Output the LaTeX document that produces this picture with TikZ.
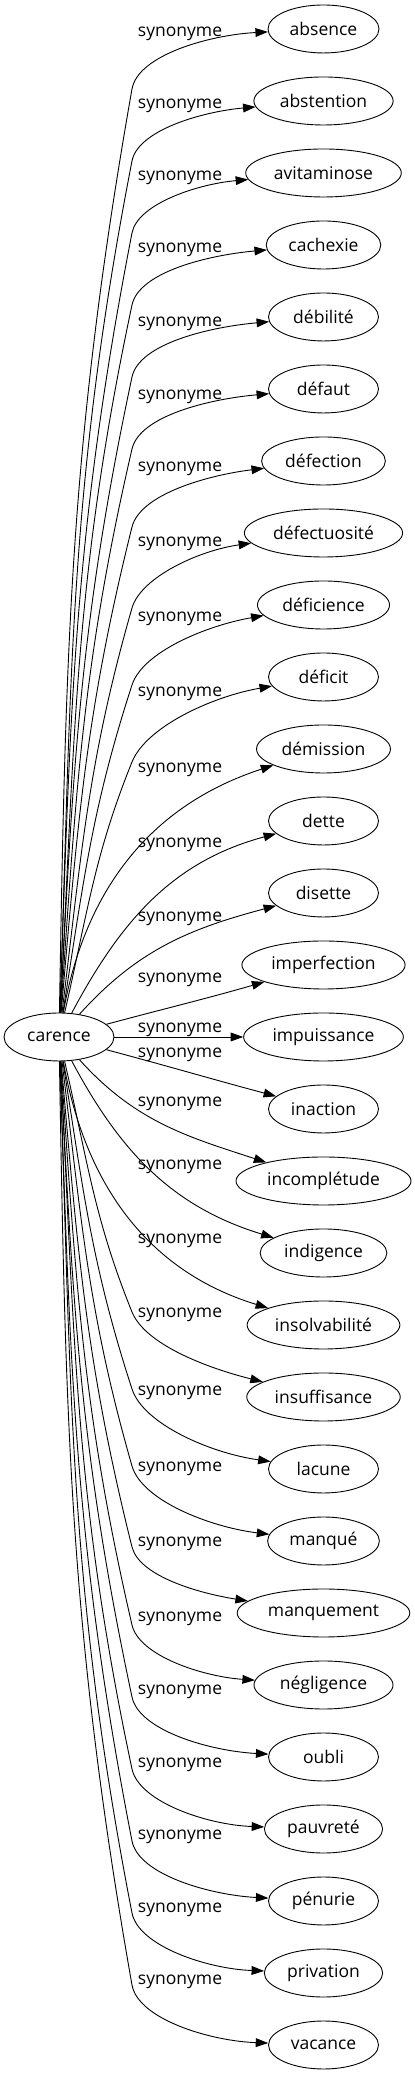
\documentclass[tikz,border=0pt]{standalone}
\usepackage{fontspec}
\setmainfont{Open Sans}
\usetikzlibrary{shapes.geometric, arrows.meta}
\tikzstyle{word} = [ellipse, draw=black, line width=0.9pt, minimum width=110pt, minimum height=48pt, inner xsep=5.5pt, inner ysep=2pt, font=\fontsize{17.5pt}{21pt}\selectfont]
\tikzstyle{syn} = [inner sep=0pt, font=\fontsize{17.5pt}{21pt}\selectfont]
\tikzstyle{arrow} = [line width=0.9pt, -{Triangle[length=12.5pt, width=8.75pt]}]
\begin{document}
\begin{tikzpicture}[node distance=72pt, x=1pt, y=1pt]
\useasboundingbox (0,0) rectangle (415,2075);
\node (absence) [word] at (323.5,2046) {absence};
\node (abstention) [word, below of = absence] {abstention};
\node (avitaminose) [word, below of = abstention] {avitaminose};
\node (cachexie) [word, below of = avitaminose] {cachexie};
\node (debilite) [word, below of = cachexie] {débilité};
\node (defaut) [word, below of = debilite] {défaut};
\node (defection) [word, below of = defaut] {défection};
\node (defectuosite) [word, below of = defection] {défectuosité};
\node (deficience) [word, below of = defectuosite] {déficience};
\node (deficit) [word, below of = deficience] {déficit};
\node (demission) [word, below of = deficit] {démission};
\node (dette) [word, below of = demission] {dette};
\node (disette) [word, below of = dette] {disette};
\node (imperfection) [word, below of = disette] {imperfection};
\node (impuissance) [word, below of = imperfection] {impuissance};
\node (inaction) [word, below of = impuissance] {inaction};
\node (incompletude) [word, below of = inaction] {incomplétude};
\node (indigence) [word, below of = incompletude] {indigence};
\node (insolvabilite) [word, below of = indigence] {insolvabilité};
\node (insuffisance) [word, below of = insolvabilite] {insuffisance};
\node (lacune) [word, below of = insuffisance] {lacune};
\node (manque) [word, below of = lacune] {manqué};
\node (manquement) [word, below of = manque] {manquement};
\node (negligence) [word, below of = manquement] {négligence};
\node (oubli) [word, below of = negligence] {oubli};
\node (pauvrete) [word, below of = oubli] {pauvreté};
\node (penurie) [word, below of = pauvrete] {pénurie};
\node (privation) [word, below of = penurie] {privation};
\node (vacance) [word, below of = privation] {vacance};
\node (carence) [word, left of = impuissance, xshift = -192.5pt] {carence};
\draw [arrow] (carence) to[out=89, in=260] (132,1986) to[out=80, in=183, out looseness=0.6] (absence) node[syn] at (180,2041) {synonyme};
\draw [arrow] (carence) to[out=88, in=259] (132,1914) to[out=79, in=185, out looseness=0.6] (abstention) node[syn] at (180,1969) {synonyme};
\draw [arrow] (carence) to[out=88, in=259] (132,1842) to[out=79, in=185, out looseness=0.6] (avitaminose) node[syn] at (180,1897) {synonyme};
\draw [arrow] (carence) to[out=87, in=258] (132,1770) to[out=78, in=185, out looseness=0.6] (cachexie) node[syn] at (180,1825) {synonyme};
\draw [arrow] (carence) to[out=87, in=258] (132,1698) to[out=78, in=185, out looseness=0.6] (debilite) node[syn] at (180,1751) {synonyme};
\draw [arrow] (carence) to[out=86, in=257] (132,1626) to[out=77, in=185, out looseness=0.6] (defaut) node[syn] at (180,1678) {synonyme};
\draw [arrow] (carence) to[out=85, in=256] (132,1548) to[out=76, in=187, out looseness=0.6] (defection) node[syn] at (180,1606) {synonyme};
\draw [arrow] (carence) to[out=83, in=254] (132,1467) to[out=74, in=188, out looseness=0.6] (defectuosite) node[syn] at (180,1531) {synonyme};
\draw [arrow] (carence) to[out=81, in=252] (132,1390) to[out=72, in=190, out looseness=0.6] (deficience) node[syn] at (180,1456) {synonyme};
\draw [arrow] (carence) to[out=77, in=248] (132,1313) to[out=68, in=190, out looseness=0.6] (deficit) node[syn] at (180,1381) {synonyme};
\draw [arrow] (carence) to[out=80, in=198] (demission) node[syn] at (180,1305) {synonyme};
\draw [arrow] (carence) to[out=62, in=195] (dette) node[syn] at (180,1230) {synonyme};
\draw [arrow] (carence) to[out=48, in=195] (disette) node[syn] at (180,1156) {synonyme};
\draw [arrow] (carence) to[out=15, in=196] (imperfection) node[syn] at (180,1095) {synonyme};
\draw [arrow] (carence) -- (impuissance) node[syn] at (180,1045) {synonyme};
\draw [arrow] (carence) to[out=-15, in=165] (inaction) node[syn] at (180,1020) {synonyme};
\draw [arrow] (carence) to[out=-48, in=162] (incompletude) node[syn] at (180,971) {synonyme};
\draw [arrow] (carence) to[out=-62, in=163] (indigence) node[syn] at (180,908) {synonyme};
\draw [arrow] (carence) to[out=-80, in=163] (insolvabilite) node[syn] at (180,834) {synonyme};
\draw [arrow] (carence) to[out=-77, in=112] (132,763) to[out=-68, in=166, out looseness=0.6] (insuffisance) node[syn] at (180,760) {synonyme};
\draw [arrow] (carence) to[out=-81, in=108] (132,686) to[out=-72, in=172, out looseness=0.6] (lacune) node[syn] at (180,682) {synonyme};
\draw [arrow] (carence) to[out=-83, in=106] (132,609) to[out=-74, in=173, out looseness=0.6] (manque) node[syn] at (180,606) {synonyme};
\draw [arrow] (carence) to[out=-85, in=104] (132,528) to[out=-76, in=171, out looseness=0.6] (manquement) node[syn] at (180,531) {synonyme};
\draw [arrow] (carence) to[out=-86, in=103] (132,450) to[out=-77, in=176, out looseness=0.6] (negligence) node[syn] at (180,456) {synonyme};
\draw [arrow] (carence) to[out=-87, in=102] (132,378) to[out=-78, in=177, out looseness=0.6] (oubli) node[syn] at (180,383) {synonyme};
\draw [arrow] (carence) to[out=-87, in=102] (132,306) to[out=-78, in=178, out looseness=0.6] (pauvrete) node[syn] at (180,310) {synonyme};
\draw [arrow] (carence) to[out=-88, in=101] (132,234) to[out=-79, in=177, out looseness=0.6] (penurie) node[syn] at (180,238) {synonyme};
\draw [arrow] (carence) to[out=-88, in=101] (132,162) to[out=-79, in=178, out looseness=0.6] (privation) node[syn] at (180,165) {synonyme};
\draw [arrow] (carence) to[out=-89, in=100] (132,90) to[out=-80, in=178, out looseness=0.6] (vacance) node[syn] at (180,93) {synonyme};
\end{tikzpicture}
\end{document}
